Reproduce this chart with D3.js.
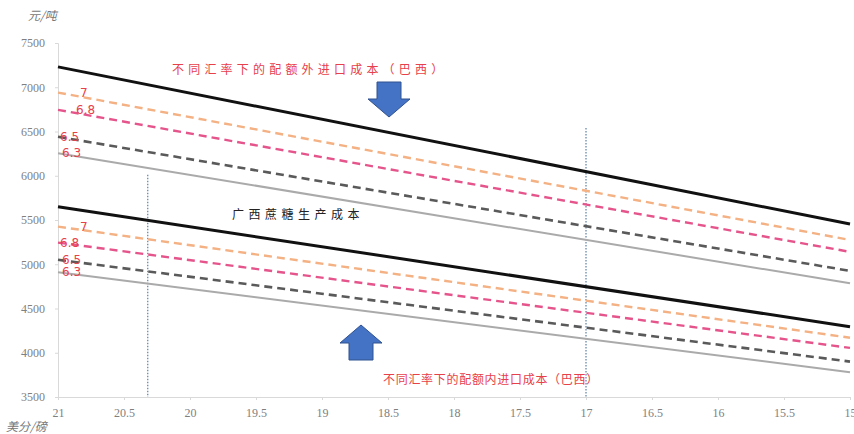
<!DOCTYPE html>
<html><head><meta charset="utf-8">
<script src="https://cdn.jsdelivr.net/npm/d3@7"></script>
<style>body{margin:0;background:#fff;}svg{display:block;}</style>
</head><body><svg id="c" width="854" height="434"></svg>
<script>
// ---------- data ----------
const priceEnds = [21, 15];                       // 美分/磅 (x at line ends)
const seriesNames = ["", "7", "6.8", "6.5", "6.3"]; // exchange-rate labels
const outQuotaStart = [7230, 6940, 6745, 6440, 6255];
const outQuotaEnd   = [5455, 5275, 5140, 4925, 4785];
const inQuotaStart  = [5650, 5425, 5245, 5050, 4910];
const inQuotaEnd    = [4295, 4170, 4055, 3900, 3780];
const xTicks = [21, 20.5, 20, 19.5, 19, 18.5, 18, 17.5, 17, 16.5, 16, 15.5, 15];
const yTicks = [3500, 4000, 4500, 5000, 5500, 6000, 6500, 7000, 7500];
const markerX   = [20.32, 17];
const markerTop = [6010, 6540];
const textOut = "不同汇率下的配额外进口成本（巴西）";
const textIn  = "不同汇率下的配额内进口成本（巴西）";
const textGX  = "广西蔗糖生产成本";

// ---------- styling ----------
const colors = ["#111111", "#f4b183", "#e5558c", "#5a5a5a", "#aaaaaa"];
const widths = [3, 2.4, 2.4, 2.6, 2];
const dashes = [null, "8,5", "8,5", "8,5", null];
const labUpDx = [0, 20, 16, 0, 2];
const labLoDx = [0, 20, 0, 2, 2];

const svg = d3.select("#c");
const x = d3.scaleLinear().domain([21, 15]).range([58, 850]);
const y = d3.scaleLinear().domain([3500, 7500]).range([397, 43]);

// axes
const xAxis = d3.axisBottom(x).tickValues(xTicks).tickSize(3).tickFormat(d => String(d));
const gx = svg.append("g").attr("transform", "translate(0,397)").call(xAxis);
gx.select(".domain").attr("stroke", "#d9d9d9");
gx.selectAll(".tick line").attr("stroke", "#d9d9d9");
gx.selectAll(".tick text").attr("fill", "#7f7f7f").attr("font-family", "Liberation Serif")
  .attr("font-size", 12).attr("dy", "1.15em");

const yAxis = d3.axisLeft(y).tickValues(yTicks).tickSize(3).tickPadding(10).tickFormat(d => String(d));
const gy = svg.append("g").attr("transform", "translate(58,0)").call(yAxis);
gy.select(".domain").attr("stroke", "#d9d9d9");
gy.selectAll(".tick line").attr("stroke", "#d9d9d9");
gy.selectAll(".tick text").attr("fill", "#7f7f7f").attr("font-family", "Liberation Serif").attr("font-size", 12);

svg.append("text").attr("x", 28).attr("y", 20).text("元/吨")
  .attr("font-family", "Noto Sans CJK SC").attr("font-size", 12).attr("fill", "#777").attr("font-style", "italic");
svg.append("text").attr("x", 6).attr("y", 431).text("美分/磅")
  .attr("font-family", "Noto Sans CJK SC").attr("font-size", 12).attr("fill", "#777").attr("font-style", "italic");

// vertical dotted markers
markerX.forEach((v, i) => {
  svg.append("line").attr("x1", x(v)).attr("x2", x(v)).attr("y1", y(markerTop[i])).attr("y2", y(3500))
    .attr("stroke", "#5b7fa6").attr("stroke-width", 1.2).attr("stroke-dasharray", "1.5,1.5");
});

const line = d3.line().x(d => x(d[0])).y(d => y(d[1]));
function drawGroup(starts, ends, labDx) {
  for (let i = starts.length - 1; i >= 0; i--) {
    const pts = [[priceEnds[0], starts[i]], [priceEnds[1], ends[i]]];
    svg.append("path").datum(pts).attr("d", line).attr("fill", "none")
      .attr("stroke", colors[i]).attr("stroke-width", widths[i])
      .attr("stroke-dasharray", dashes[i]);
    if (seriesNames[i]) {
      svg.append("text").attr("x", x(priceEnds[0]) + 2 + labDx[i]).attr("y", y(starts[i]))
        .attr("dy", "0.35em").text(seriesNames[i])
        .attr("font-family", "DejaVu Sans").attr("font-size", 12).attr("fill", "#e8404a");
    }
  }
}
drawGroup(outQuotaStart, outQuotaEnd, labUpDx);
drawGroup(inQuotaStart, inQuotaEnd, labLoDx);

// annotations
svg.append("text").attr("x", 172).attr("y", 74).text(textOut)
  .attr("font-family", "Noto Sans CJK SC").attr("font-size", 12).attr("letter-spacing", 4.2).attr("fill", "#e8404a");
svg.append("text").attr("x", 383).attr("y", 384).text(textIn)
  .attr("font-family", "Noto Sans CJK SC").attr("font-size", 12).attr("letter-spacing", 0.7).attr("fill", "#e8404a");
svg.append("text").attr("x", 232).attr("y", 219).text(textGX)
  .attr("font-family", "Noto Sans CJK SC").attr("font-size", 12).attr("letter-spacing", 4.5).attr("fill", "#222");

// arrows
function arrow(cx, tipY, dir) {
  const hw = 21, sw = 12, hh = 18, sl = 17;
  const b = tipY - dir * hh, e = b - dir * sl;
  const p = [[cx, tipY], [cx + hw, b], [cx + sw, b], [cx + sw, e], [cx - sw, e], [cx - sw, b], [cx - hw, b]];
  svg.append("path").attr("d", d3.line()(p) + "Z").attr("fill", "#4472c4").attr("stroke", "#2f528f").attr("stroke-width", 1);
}
arrow(389, 117, 1);
arrow(361, 325, -1);
</script></body></html>
